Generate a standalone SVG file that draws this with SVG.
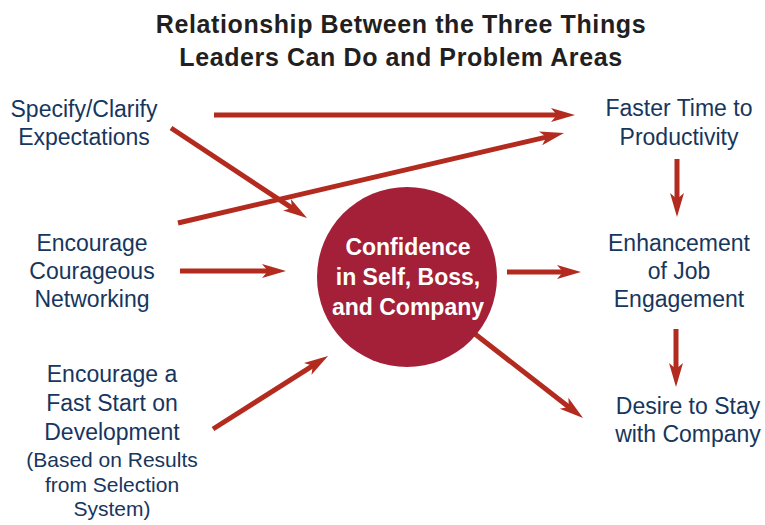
<svg xmlns="http://www.w3.org/2000/svg" width="765" height="525" viewBox="0 0 765 525">
<defs>
<style>
.t{font-family:"Liberation Sans",Arial,sans-serif;font-size:23px;fill:#17365d;text-anchor:middle}
.s{font-size:21px}
.title{font-family:"Liberation Sans",Arial,sans-serif;font-size:25px;letter-spacing:0.6px;font-weight:bold;fill:#231f20;text-anchor:middle}
.c{font-family:"Liberation Sans",Arial,sans-serif;font-size:23px;font-weight:bold;fill:#ffffff;text-anchor:middle}
.a{fill:none;stroke:#b32a1f;stroke-width:5;stroke-linecap:butt;marker-end:url(#h)}
</style>
<marker id="h" markerUnits="userSpaceOnUse" viewBox="0 -8 26 16" markerWidth="26" markerHeight="16" refX="8" refY="0" orient="auto">
<path d="M0,-7 L24,0 L0,7 L6,0 Z" fill="#b32a1f"/>
</marker>
</defs>
<rect width="765" height="525" fill="#ffffff"/>
<g id="title">
<text class="title" x="401" y="33">Relationship Between the Three Things</text>
<text class="title" x="401" y="66">Leaders Can Do and Problem Areas</text>
</g>
<g id="connectors">
<path class="a" d="M214,115 L559,115"/>
<path class="a" d="M171,128 L293.7,209.2"/>
<path class="a" d="M178,223 L548.4,136.6"/>
<path class="a" d="M180,271 L270,271"/>
<path class="a" d="M213,429 L314.5,364.6"/>
<path class="a" d="M507,272 L565,272"/>
<path class="a" d="M466,327 L570.4,408.2"/>
<path class="a" d="M677,159 L677,201"/>
<path class="a" d="M676,329 L676,371"/>
</g>
<g id="confidence">
<circle cx="407" cy="277" r="90" fill="#a32038"/>
<text class="c" x="408" y="255">Confidence</text>
<text class="c" x="408" y="285">in Self, Boss,</text>
<text class="c" x="408" y="315">and Company</text>
</g>
<g id="specify">
<text class="t" x="84" y="117">Specify/Clarify</text>
<text class="t" x="84" y="145">Expectations</text>
</g>
<g id="networking">
<text class="t" x="92" y="251">Encourage</text>
<text class="t" x="92" y="279">Courageous</text>
<text class="t" x="92" y="307">Networking</text>
</g>
<g id="faststart">
<text class="t" x="112" y="382">Encourage a</text>
<text class="t" x="112" y="411">Fast Start on</text>
<text class="t" x="112" y="440">Development</text>
<text class="t s" x="112" y="467">(Based on Results</text>
<text class="t s" x="112" y="492">from Selection</text>
<text class="t s" x="112" y="516">System)</text>
</g>
<g id="faster">
<text class="t" x="679" y="116">Faster Time to</text>
<text class="t" x="679" y="145">Productivity</text>
</g>
<g id="engagement">
<text class="t" x="679" y="251">Enhancement</text>
<text class="t" x="679" y="279">of Job</text>
<text class="t" x="679" y="307">Engagement</text>
</g>
<g id="stay">
<text class="t" x="688" y="414">Desire to Stay</text>
<text class="t" x="688" y="442">with Company</text>
</g>
</svg>
